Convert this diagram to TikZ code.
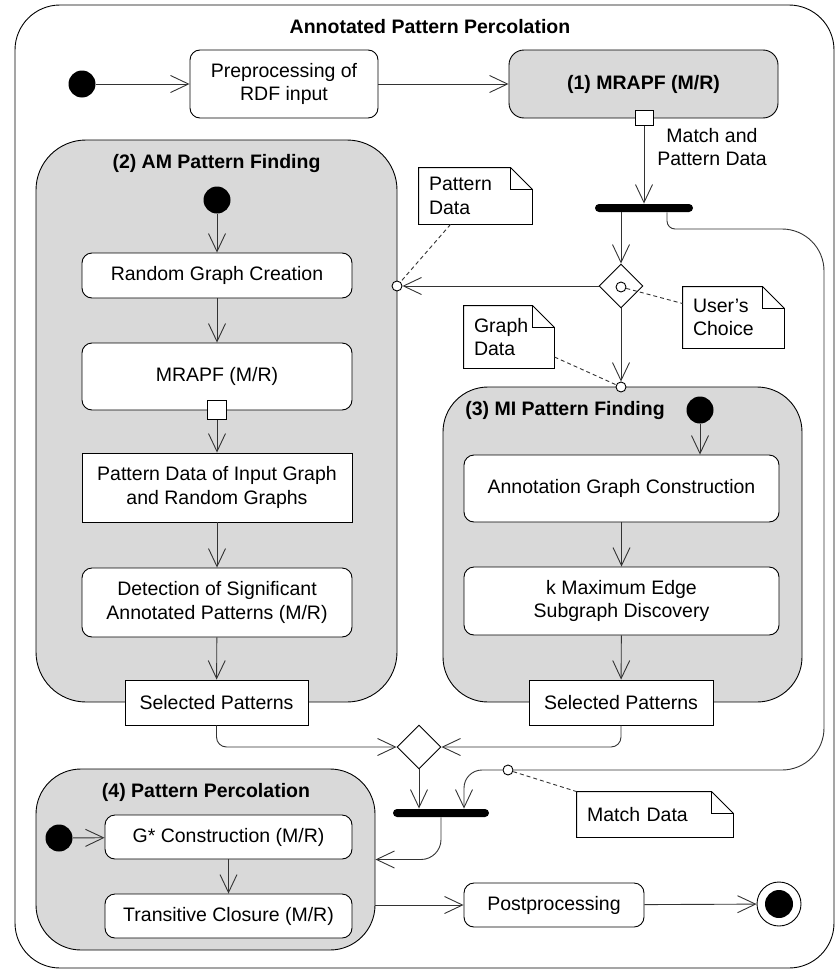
\documentclass[tikz,border=0pt]{standalone}
\usepackage{fontspec}
\setmainfont{Liberation Sans}
\usetikzlibrary{arrows.meta, shapes.geometric}

\newcommand{\notefold}[1]{%
  \draw (#1.south west) -- (#1.north west) -- ([xshift=-22pt]#1.north east)
    -- ([yshift=-22pt]#1.north east) -- (#1.south east) -- cycle;
  \draw[line width=1.4pt] ([xshift=-22pt]#1.north east) |- ([yshift=-22pt]#1.north east);}

\begin{document}
\begin{tikzpicture}[x=1pt,y=-1pt,line width=0.9pt,
    font=\fontsize{19.5}{23.5}\selectfont,
    flow/.style={draw=black!80,-{Straight Barb[length=18pt,width=17pt]}},
    datalink/.style={draw=black!80,dash pattern=on 4pt off 3pt},
    actbox/.style={draw,fill=white,rounded corners=10pt,align=center,inner sep=0pt},
    datbox/.style={draw,fill=white,align=center,inner sep=0pt},
    grpbox/.style={draw,fill=black!15,rounded corners=45pt,inner sep=0pt},
    grptitle/.style={font=\fontsize{19.5}{23.5}\selectfont\bfseries},
    startdot/.style={circle,fill=black,minimum size=27pt,inner sep=0pt},
    enddot/.style={circle,draw,fill=white,minimum size=44pt,inner sep=0pt,
      path picture={\fill[black] (path picture bounding box.center) circle (14pt);}},
    pinbox/.style={draw,fill=white,inner sep=0pt},
    pinring/.style={circle,draw,fill=white,minimum size=10pt,inner sep=0pt},
    forkbar/.style={fill=black,rounded corners=4pt,minimum height=8pt,inner sep=0pt},
    choicebox/.style={diamond,draw,fill=white,minimum width=44pt,minimum height=44pt,inner sep=0pt},
    notetext/.style={align=left,inner xsep=10pt,inner ysep=0pt}]
\useasboundingbox (0,0) rectangle (835,969);

% outer frame
\draw[rounded corners=45pt] (15,5) rectangle (834,968);
\node[grptitle] (maintitle) at (430,27) {Annotated Pattern Percolation};

% containers
\node[grpbox,rounded corners=50pt,minimum width=361pt,minimum height=562pt] (amf) at (216.5,421) {};
\node[grpbox,minimum width=359pt,minimum height=315pt] (mif) at (622.5,544.5) {};
\node[grpbox,minimum width=339pt,minimum height=181pt] (perc) at (205.5,859.5) {};
\node[grptitle] (amftitle) at (216.5,163) {(2) AM Pattern Finding};
\node[grptitle] (miftitle) at (565,410) {(3) MI Pattern Finding};
\node[grptitle] (perctitle) at (206,792) {(4) Pattern Percolation};

% top row
\node[startdot] (start) at (82,84) {};
\node[actbox,minimum width=188pt,minimum height=68pt] (prep) at (284,84) {Preprocessing of\\RDF input};
\node[actbox,fill=black!15,rounded corners=15pt,minimum width=269pt,minimum height=68pt,font=\fontsize{19.5}{23.5}\selectfont\bfseries] (mrapf) at (643.5,84) {(1) MRAPF (M/R)};
\node[pinbox,minimum width=18pt,minimum height=15pt] (mrpin) at (644,118) {};
\node[align=center] (mplabel) at (712,147) {Match and\\Pattern Data};
\node[forkbar,minimum width=98pt] (fork1) at (644,208) {};
\node[choicebox] (choice) at (621,286) {};
\node[pinring] (choicedot) at (621,287) {};

% notes
\node[notetext,text width=93pt,minimum height=56pt] (pdnote) at (475.5,196) {Pattern\\Data};
\node[notetext,text width=70pt,minimum height=62pt] (gdnote) at (509,337) {Graph\\Data};
\node[notetext,text width=81pt,minimum height=61pt] (ucnote) at (733.5,317.5) {User’s\\Choice};
\node[notetext,text width=136pt,minimum height=45pt] (mdnote) at (655,814.5) {Match Data};
\notefold{pdnote}
\notefold{gdnote}
\notefold{ucnote}
\notefold{mdnote}
\node[pinring] (pdpin) at (397,286) {};
\node[pinring] (gdpin) at (621,387) {};
\node[pinring] (mdpin) at (508,770) {};

% (2) AM pattern finding
\node[startdot] (amstart) at (217,200) {};
\node[actbox,minimum width=270pt,minimum height=45pt] (rgc) at (217,275.5) {Random Graph Creation};
\node[actbox,minimum width=270pt,minimum height=67pt] (mr2) at (217,376.5) {MRAPF (M/R)};
\node[pinbox,minimum width=19pt,minimum height=19pt] (mr2pin) at (217,410) {};
\node[datbox,minimum width=270pt,minimum height=69pt] (pdin) at (217,487.5) {Pattern Data of Input Graph\\and Random Graphs};
\node[actbox,minimum width=270pt,minimum height=69pt] (dsap) at (217,602.5) {Detection of Significant\\Annotated Patterns (M/R)};
\node[datbox,minimum width=183pt,minimum height=45pt] (sel2) at (216.5,702.5) {Selected Patterns};

% (3) MI pattern finding
\node[startdot] (mistart) at (700,410) {};
\node[actbox,minimum width=315pt,minimum height=67pt] (agc) at (621.5,488.5) {Annotation Graph Construction};
\node[actbox,minimum width=315pt,minimum height=68pt] (kmes) at (621.5,601) {k Maximum Edge\\Subgraph Discovery};
\node[datbox,minimum width=184pt,minimum height=45pt] (sel3) at (621,702.5) {Selected Patterns};

% merge and join
\node[choicebox] (merge) at (419,747) {};
\node[forkbar,minimum width=96pt] (fork2) at (441,813) {};

% (4) pattern percolation
\node[startdot] (ppstart) at (59,838) {};
\node[actbox,minimum width=247pt,minimum height=44pt] (gstar) at (228.5,837) {G* Construction (M/R)};
\node[actbox,minimum width=247pt,minimum height=44pt] (tc) at (228.5,916) {Transitive Closure (M/R)};
\node[actbox,minimum width=180pt,minimum height=44pt] (post) at (554,905) {Postprocessing};
\node[enddot] (finish) at (779,904) {};

% loop corners
\coordinate (loopnw) at (667,229);
\coordinate (loopne) at (824,229);
\coordinate (loopse) at (824,770);
\coordinate (loopsw) at (464,770);

% connectors
\draw[flow] (start) -- (prep);
\draw[flow] (prep) -- (mrapf);
\draw[flow] (mrpin) -- (fork1);
\draw[flow] (fork1.south -| choice.north) -- (choice.north);
\draw[flow] (fork1.south -| loopnw) [rounded corners=8pt] -- (loopnw)
  [rounded corners=42pt] -- (loopne) -- (loopse) -- (mdpin)
  [rounded corners=18pt] -- (loopsw) -- (fork2.north -| loopsw);
\draw[flow] (choice.west) -- (pdpin);
\draw[flow] (choice.south) -- (gdpin);
\draw[datalink] ([xshift=-25pt]pdnote.south) -- (pdpin);
\draw[datalink] ([yshift=-20pt]gdnote.east) -- (gdpin);
\draw[datalink] (choicedot) -- ([yshift=14pt]ucnote.west);
\draw[datalink] (mdpin) -- (mdnote.north west);

\draw[flow] (amstart) -- (rgc);
\draw[flow] (rgc) -- (mr2);
\draw[flow] (mr2pin) -- (pdin);
\draw[flow] (pdin) -- (dsap);
\draw[flow] (dsap) -- (sel2);

\draw[flow] (mistart) -- (mistart |- agc.north);
\draw[flow] (agc) -- (kmes);
\draw[flow] (kmes) -- (sel3);

\draw[flow,rounded corners=10pt] (sel2.south) |- (merge.west);
\draw[flow,rounded corners=10pt] (sel3.south) |- (merge.east);
\draw[flow] (merge.south) -- (merge.south |- fork2.north);
\draw[flow,rounded corners=20pt] (fork2.south) |- (perc.east);

\draw[flow] (ppstart) -- (gstar);
\draw[flow] (gstar) -- (tc);
\draw[flow] (perc.east |- post) -- (post);
\draw[flow] (post) -- (finish);
\end{tikzpicture}
\end{document}
